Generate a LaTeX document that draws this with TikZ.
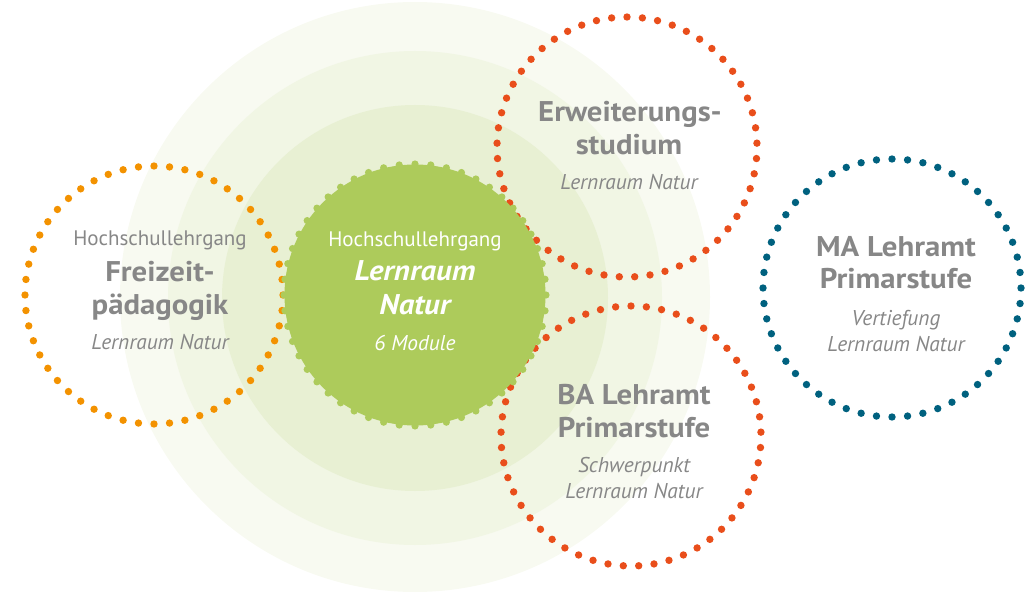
\documentclass[tikz,border=0pt]{standalone}
\usepackage{fontspec}
\setmainfont{PT Sans}
\newfontfamily\widesans{PT Sans}[FakeStretch=1.08]
\definecolor{txtgray}{HTML}{878787}
\definecolor{haloA}{HTML}{F8FAF1}
\definecolor{haloB}{HTML}{F1F6E4}
\definecolor{haloC}{HTML}{E8F0D3}
\definecolor{coregreen}{HTML}{ADCB5B}
\definecolor{dotorange}{HTML}{F39200}
\definecolor{dotred}{HTML}{E94E1B}
\definecolor{dotblue}{HTML}{00617F}
\begin{document}
\begin{tikzpicture}[x=1pt,y=-1pt,
  ring/.style={circle, inner sep=0pt, draw=none},
  lbl/.style={anchor=base, inner sep=0pt, text=txtgray, font=\fontsize{21}{24}\selectfont},
  lblb/.style={lbl, font=\widesans\fontsize{28.5}{32}\selectfont\bfseries},
  lbli/.style={lbl, font=\fontsize{21.4}{24}\selectfont\itshape},
  wlbl/.style={lbl, text=white},
  wlblb/.style={lblb, text=white, font=\widesans\fontsize{28.5}{32}\selectfont\bfseries\itshape},
  wlbli/.style={lbli, text=white}]
\useasboundingbox (0,0) rectangle (1026,596);
% halos
\node[ring, fill=haloA, minimum size=590pt] (haloa) at (415,297) {};
\node[ring, fill=haloB, minimum size=494pt] (halob) at (415,298) {};
\node[ring, fill=haloC, minimum size=386pt] (haloc) at (415,298) {};
% dotted circles
\node[ring, minimum size=258pt] (frei) at (154,295) {};
\node[ring, minimum size=260pt] (erw) at (627,147) {};
\node[ring, minimum size=260pt] (ba) at (631,436) {};
\node[ring, minimum size=258pt] (ma) at (892,288) {};
\foreach \k in {0,...,51} \fill[dotorange] (frei.center) ++({\k*(360/52)}:129pt) circle (3.7pt);
\foreach \k in {0,...,52} \fill[dotred] (erw.center) ++({\k*(360/53)+90}:130pt) circle (3.7pt);
\foreach \k in {0,...,52} \fill[dotred] (ba.center) ++({\k*(360/53)+90}:130pt) circle (3.7pt);
\foreach \k in {0,...,51} \fill[dotblue] (ma.center) ++({\k*(360/52)+90}:129pt) circle (3.7pt);
% core
\node[ring, fill=coregreen, minimum size=261pt] (core) at (415,295) {};
\foreach \k in {0,...,51} \fill[coregreen] (core.center) ++({\k*(360/52)+90}:131pt) circle (3.6pt);
% texts: Freizeit
\node[lbl] (f1) at (160,246) {Hochschullehrgang};
\node[lblb] (f2) at (160,282) {Freizeit-};
\node[lblb] (f3) at (160,314) {pädagogik};
\node[lbli] (f4) at (160,349) {Lernraum Natur};
% core
\node[wlbl] (c1) at (415,247) {Hochschullehrgang};
\node[wlblb] (c2) at (415,281) {Lernraum};
\node[wlblb] (c3) at (415,315) {Natur};
\node[wlbli] (c4) at (415,350) {6 Module};
% Erweiterung
\node[lblb] (e1) at (630,122) {Erweiterungs-};
\node[lblb] (e2) at (629,155) {studium};
\node[lbli] (e3) at (629,190) {Lernraum Natur};
% MA
\node[lblb] (m1) at (896,257) {MA Lehramt};
\node[lblb] (m2) at (896,288) {Primarstufe};
\node[lbli] (m3) at (896,325) {Vertiefung};
\node[lbli] (m4) at (896,352) {Lernraum Natur};
% BA
\node[lblb] (b1) at (634,404) {BA Lehramt};
\node[lblb] (b2) at (634,437) {Primarstufe};
\node[lbli] (b3) at (634,472) {Schwerpunkt};
\node[lbli] (b4) at (634,498) {Lernraum Natur};
\end{tikzpicture}
\end{document}
